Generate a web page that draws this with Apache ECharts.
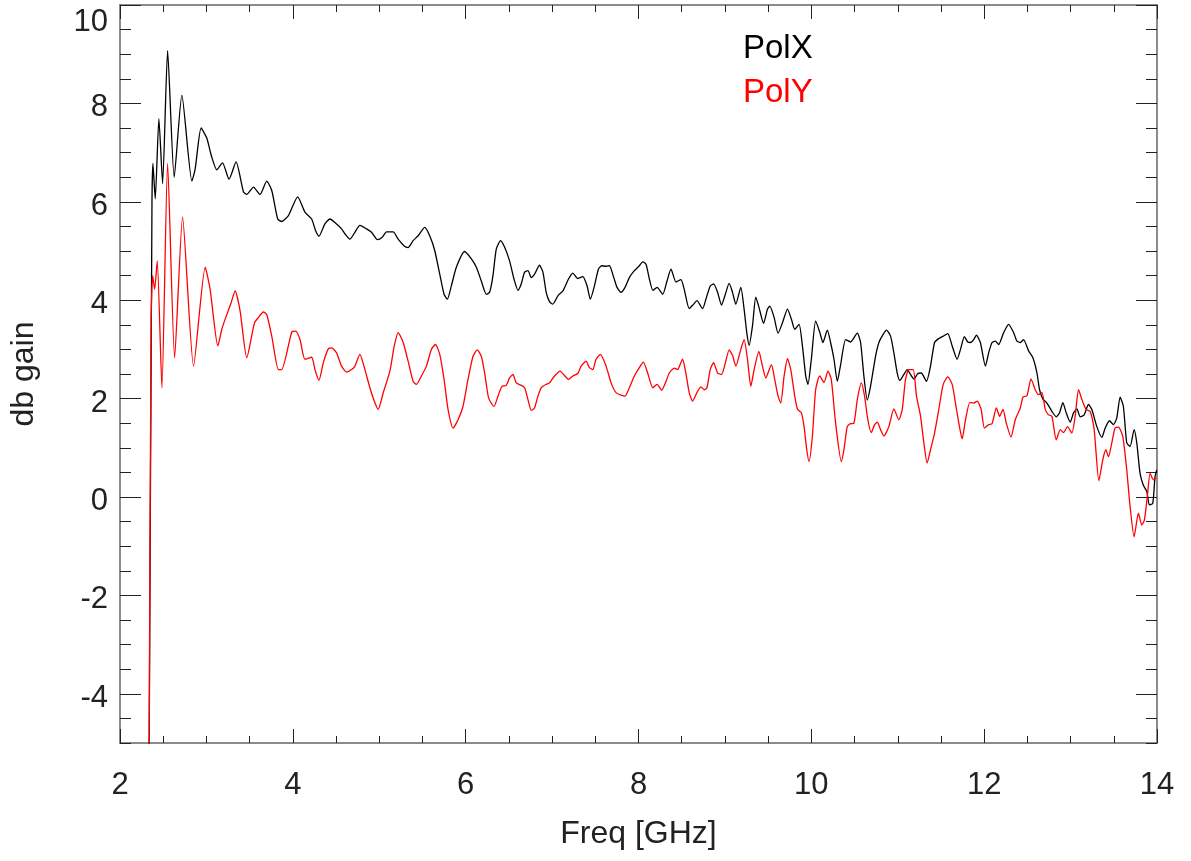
<!DOCTYPE html>
<html><head><meta charset="utf-8">
<script src="https://cdn.jsdelivr.net/npm/echarts@6/dist/echarts.min.js"></script>
<style>html,body{margin:0;padding:0;background:#fff}#c{width:1191px;height:861px}</style>
</head><body><div id="c"></div>
<script>
// [frequency GHz, gain dB]
const polX = [[2.335,-6],[2.37,5.99],[2.381,6.78],[2.408,6.06],[2.45,7.69],[2.493,6.37],[2.551,9.07],[2.627,6.5],[2.716,8.17],[2.832,6.42],[2.87,6.67],[2.939,7.5],[3.005,7.29],[3.055,6.95],[3.12,6.65],[3.186,6.79],[3.262,6.46],[3.343,6.81],[3.429,6.2],[3.467,6.15],[3.544,6.3],[3.62,6.15],[3.698,6.42],[3.756,6.23],[3.825,5.65],[3.871,5.6],[3.949,5.72],[4.056,6.1],[4.14,5.79],[4.218,5.65],[4.264,5.41],[4.302,5.3],[4.371,5.55],[4.429,5.65],[4.506,5.55],[4.564,5.45],[4.602,5.35],[4.66,5.24],[4.718,5.38],[4.776,5.52],[4.853,5.45],[4.911,5.38],[4.98,5.23],[5.034,5.28],[5.084,5.39],[5.161,5.39],[5.219,5.24],[5.295,5.09],[5.334,5.07],[5.392,5.21],[5.45,5.31],[5.526,5.48],[5.584,5.31],[5.642,5.01],[5.7,4.53],[5.75,4.12],[5.788,4.02],[5.834,4.29],[5.892,4.67],[5.988,4.99],[6.066,4.84],[6.124,4.67],[6.181,4.39],[6.239,4.12],[6.277,4.16],[6.316,4.5],[6.354,5.04],[6.404,5.21],[6.45,5.08],[6.508,4.8],[6.559,4.43],[6.605,4.2],[6.643,4.33],[6.682,4.57],[6.721,4.6],[6.759,4.46],[6.797,4.53],[6.855,4.71],[6.894,4.57],[6.932,4.16],[6.97,3.97],[7.009,3.92],[7.067,4.09],[7.125,4.19],[7.19,4.43],[7.24,4.55],[7.298,4.44],[7.356,4.48],[7.405,4.29],[7.443,4.02],[7.49,4.29],[7.536,4.63],[7.575,4.7],[7.625,4.69],[7.663,4.7],[7.714,4.46],[7.752,4.26],[7.798,4.16],[7.844,4.26],[7.894,4.46],[7.952,4.6],[8.01,4.7],[8.049,4.78],[8.087,4.73],[8.126,4.43],[8.166,4.2],[8.215,4.26],[8.28,4.12],[8.33,4.39],[8.376,4.63],[8.434,4.37],[8.491,4.42],[8.529,4.22],[8.587,3.83],[8.638,3.92],[8.676,3.99],[8.742,3.83],[8.78,4.02],[8.83,4.29],[8.869,4.33],[8.915,4.16],[8.961,3.9],[9.0,4.09],[9.049,4.34],[9.088,4.16],[9.126,3.92],[9.184,4.26],[9.222,3.82],[9.253,3.34],[9.28,3.08],[9.319,3.48],[9.357,4.06],[9.395,3.85],[9.447,3.53],[9.493,3.82],[9.52,3.88],[9.569,3.65],[9.615,3.33],[9.666,3.54],[9.724,3.82],[9.77,3.61],[9.808,3.41],[9.858,3.51],[9.897,3.07],[9.935,2.46],[9.961,2.29],[10.0,2.8],[10.05,3.58],[10.099,3.34],[10.134,3.14],[10.185,3.39],[10.223,3.14],[10.262,2.8],[10.301,2.35],[10.339,2.69],[10.397,3.2],[10.454,3.15],[10.532,3.33],[10.57,3.14],[10.608,2.46],[10.647,1.97],[10.685,2.25],[10.743,2.86],[10.782,3.14],[10.833,3.31],[10.87,3.39],[10.917,3.27],[10.955,2.93],[10.994,2.52],[11.024,2.37],[11.071,2.49],[11.11,2.59],[11.148,2.49],[11.186,2.4],[11.233,2.51],[11.272,2.52],[11.333,2.35],[11.379,2.66],[11.426,3.14],[11.475,3.22],[11.526,3.27],[11.579,3.32],[11.63,3.07],[11.687,2.8],[11.726,3.0],[11.771,3.26],[11.81,3.15],[11.841,3.14],[11.879,3.2],[11.91,3.29],[11.956,3.14],[12.014,2.66],[12.052,2.93],[12.091,3.14],[12.129,3.17],[12.168,3.1],[12.225,3.34],[12.283,3.51],[12.341,3.34],[12.379,3.17],[12.418,3.14],[12.456,3.2],[12.514,2.97],[12.564,2.83],[12.611,2.52],[12.641,2.18],[12.68,1.99],[12.726,1.91],[12.784,1.74],[12.834,1.63],[12.872,1.71],[12.911,1.92],[12.949,1.71],[12.996,1.52],[13.034,1.71],[13.073,1.79],[13.111,1.63],[13.157,1.67],[13.207,1.88],[13.246,1.78],[13.304,1.43],[13.362,1.21],[13.4,1.4],[13.45,1.55],[13.496,1.47],[13.535,1.61],[13.573,2.03],[13.611,1.84],[13.65,1.1],[13.689,1.03],[13.735,1.37],[13.766,1.1],[13.804,0.48],[13.842,0.24],[13.882,0.11],[13.912,-0.16],[13.951,-0.13],[13.977,0.41],[13.997,0.55]];

const polY = [[2.335,-6],[2.36,3.6],[2.378,4.5],[2.401,4.22],[2.431,4.8],[2.485,2.22],[2.551,6.78],[2.632,2.83],[2.724,5.69],[2.851,2.66],[2.986,4.67],[3.043,4.22],[3.132,3.07],[3.178,3.41],[3.216,3.61],[3.286,3.95],[3.332,4.19],[3.39,3.78],[3.467,2.83],[3.556,3.54],[3.602,3.65],[3.66,3.76],[3.698,3.71],[3.756,3.27],[3.833,2.59],[3.871,2.59],[3.987,3.35],[4.033,3.37],[4.083,3.2],[4.14,2.8],[4.218,2.84],[4.256,2.59],[4.302,2.37],[4.353,2.73],[4.41,3.01],[4.449,3.03],[4.506,2.93],[4.564,2.66],[4.622,2.54],[4.68,2.59],[4.718,2.66],[4.776,2.9],[4.834,2.59],[4.892,2.22],[4.942,1.95],[4.988,1.78],[5.046,2.12],[5.123,2.56],[5.174,3.07],[5.219,3.34],[5.277,3.14],[5.334,2.76],[5.392,2.35],[5.43,2.29],[5.488,2.46],[5.546,2.66],[5.603,3.0],[5.65,3.1],[5.7,2.9],[5.75,2.39],[5.796,1.78],[5.854,1.4],[5.912,1.57],[5.969,1.84],[6.027,2.39],[6.085,2.86],[6.135,2.99],[6.181,2.86],[6.22,2.52],[6.266,2.01],[6.328,1.84],[6.374,2.05],[6.42,2.25],[6.47,2.27],[6.508,2.42],[6.547,2.49],[6.585,2.32],[6.643,2.27],[6.682,2.22],[6.721,1.98],[6.759,1.76],[6.797,1.81],[6.836,2.05],[6.874,2.22],[6.932,2.29],[6.97,2.32],[7.028,2.46],[7.093,2.56],[7.143,2.47],[7.19,2.39],[7.24,2.46],[7.298,2.51],[7.336,2.66],[7.394,2.76],[7.432,2.63],[7.471,2.59],[7.509,2.8],[7.559,2.9],[7.625,2.66],[7.683,2.32],[7.74,2.12],[7.798,2.07],[7.844,2.05],[7.894,2.22],[7.952,2.46],[8.01,2.63],[8.056,2.74],[8.106,2.52],[8.166,2.22],[8.215,2.29],[8.268,2.17],[8.318,2.35],[8.356,2.52],[8.414,2.62],[8.453,2.59],[8.472,2.65],[8.51,2.8],[8.548,2.52],[8.587,2.12],[8.626,1.95],[8.676,2.12],[8.722,2.24],[8.761,2.18],[8.792,2.22],[8.83,2.59],[8.869,2.73],[8.915,2.52],[8.961,2.49],[9.0,2.69],[9.049,2.99],[9.088,2.88],[9.126,2.66],[9.184,3.0],[9.222,3.2],[9.261,2.8],[9.3,2.25],[9.338,2.59],[9.393,2.96],[9.434,2.66],[9.473,2.42],[9.538,2.69],[9.576,2.39],[9.615,2.05],[9.646,1.91],[9.685,2.46],[9.724,2.81],[9.762,2.59],[9.808,2.05],[9.839,1.79],[9.885,1.71],[9.916,1.43],[9.947,0.96],[9.973,0.72],[10.012,1.23],[10.05,2.18],[10.097,2.46],[10.147,2.33],[10.192,2.56],[10.231,2.39],[10.281,1.5],[10.347,0.72],[10.377,0.96],[10.416,1.43],[10.454,1.49],[10.493,1.5],[10.532,1.98],[10.578,2.32],[10.616,2.05],[10.654,1.57],[10.694,1.31],[10.732,1.47],[10.763,1.52],[10.801,1.37],[10.84,1.24],[10.897,1.43],[10.955,1.79],[11.013,1.57],[11.052,1.78],[11.09,2.39],[11.128,2.59],[11.179,2.59],[11.217,2.05],[11.264,1.64],[11.302,1.1],[11.34,0.69],[11.379,0.96],[11.426,1.3],[11.475,1.78],[11.526,2.29],[11.579,2.44],[11.63,2.29],[11.668,1.91],[11.707,1.5],[11.745,1.18],[11.784,1.57],[11.834,1.92],[11.88,1.91],[11.919,1.95],[11.965,1.78],[12.003,1.4],[12.052,1.47],[12.091,1.49],[12.141,1.81],[12.179,1.64],[12.218,1.78],[12.256,1.5],[12.311,1.22],[12.36,1.57],[12.418,1.81],[12.449,2.03],[12.495,2.06],[12.542,2.4],[12.591,2.18],[12.63,2.08],[12.669,2.12],[12.707,1.78],[12.745,1.67],[12.784,1.64],[12.834,1.16],[12.88,1.37],[12.918,1.31],[12.965,1.43],[13.015,1.3],[13.053,1.64],[13.092,2.18],[13.131,1.98],[13.18,1.78],[13.227,1.74],[13.273,1.37],[13.327,0.33],[13.373,0.76],[13.408,0.96],[13.438,0.82],[13.477,1.1],[13.515,1.4],[13.554,1.42],[13.604,1.23],[13.65,0.55],[13.689,-0.2],[13.735,-0.81],[13.785,-0.33],[13.824,-0.57],[13.854,-0.47],[13.888,0.01],[13.92,0.48],[13.958,0.35],[13.989,0.38]];

const seriesNames = ['PolX', 'PolY'];
const xTicks = [2, 4, 6, 8, 10, 12, 14];
const yTicks = [-4, -2, 0, 2, 4, 6, 8, 10];

const FONT = '"Liberation Sans", Helvetica, Arial, sans-serif';
const LINE_C = '#666';
const TICK_C = '#222';
const TXT_C = '#222';

function xAxisDef(pos, major, withLabels) {
  const a = {
    type: 'value', min: 2, max: 14, interval: 0.5, position: pos,
    axisLine: { show: !major, onZero: false, lineStyle: { color: LINE_C, width: 1.5 } },
    axisTick: { show: true, inside: true, length: major ? 14 : 7, lineStyle: { color: TICK_C, width: 1 } },
    axisLabel: { show: false },
    splitLine: { show: false }
  };
  if (major) a.axisTick.customValues = xTicks;
  if (withLabels) {
    a.axisLabel = { show: true, customValues: xTicks, fontSize: 31, color: TXT_C, fontFamily: FONT, margin: 27 };
    a.name = 'Freq [GHz]';
    a.nameLocation = 'middle';
    a.nameGap = 75;
    a.nameTextStyle = { fontSize: 32, color: TXT_C, fontFamily: FONT };
  }
  return a;
}
function yAxisDef(pos, major, withLabels) {
  const a = {
    type: 'value', min: -5, max: 10, interval: 0.5, position: pos,
    axisLine: { show: !major, onZero: false, lineStyle: { color: LINE_C, width: 1.5 } },
    axisTick: { show: true, inside: true, length: major ? 21 : 11, lineStyle: { color: TICK_C, width: 1 } },
    axisLabel: { show: false },
    splitLine: { show: false }
  };
  if (major) a.axisTick.customValues = yTicks;
  if (withLabels) {
    a.axisLabel = {
      show: true, customValues: yTicks, margin: 12,
      formatter: v => (v === 10 ? '{t|' + v + '}' : '{n|' + v + '}'),
      rich: {
        t: { fontSize: 31, color: TXT_C, fontFamily: FONT, padding: [34, 0, 0, 0] },
        n: { fontSize: 31, color: TXT_C, fontFamily: FONT, padding: [9, 0, 0, 0] }
      }
    };
    a.name = 'db gain';
    a.nameLocation = 'middle';
    a.nameGap = 80;
    a.nameTextStyle = { fontSize: 32, color: TXT_C, fontFamily: FONT };
  }
  return a;
}

const chart = echarts.init(document.getElementById('c'));
chart.setOption({
  animation: false,
  backgroundColor: '#fff',
  grid: { left: 118, right: 34, top: 5, bottom: 118, containLabel: false },
  legend: {
    orient: 'vertical', left: 733, top: 27, icon: 'none', itemWidth: 0, itemHeight: 0, itemGap: 11,
    selectedMode: false,
    textStyle: { fontSize: 33, fontFamily: FONT },
    data: [
      { name: seriesNames[0], textStyle: { color: '#000000' } },
      { name: seriesNames[1], textStyle: { color: '#ff0000' } }
    ]
  },
  xAxis: [xAxisDef('bottom', false, false), xAxisDef('bottom', true, true), xAxisDef('top', false, false), xAxisDef('top', true, false)],
  yAxis: [yAxisDef('left', false, false), yAxisDef('left', true, true), yAxisDef('right', false, false), yAxisDef('right', true, false)],
  series: [
    { type: 'line', name: seriesNames[0], data: polX, xAxisIndex: 0, yAxisIndex: 0, symbol: 'none', showSymbol: false,
      smooth: 0.2, clip: true, lineStyle: { color: '#000000', width: 1.3 }, itemStyle: { color: '#000000' } },
    { type: 'line', name: seriesNames[1], data: polY, xAxisIndex: 0, yAxisIndex: 0, symbol: 'none', showSymbol: false,
      smooth: 0.2, clip: true, lineStyle: { color: '#ff0000', width: 1.3 }, itemStyle: { color: '#ff0000' } }
  ]
});
</script>
</body></html>
